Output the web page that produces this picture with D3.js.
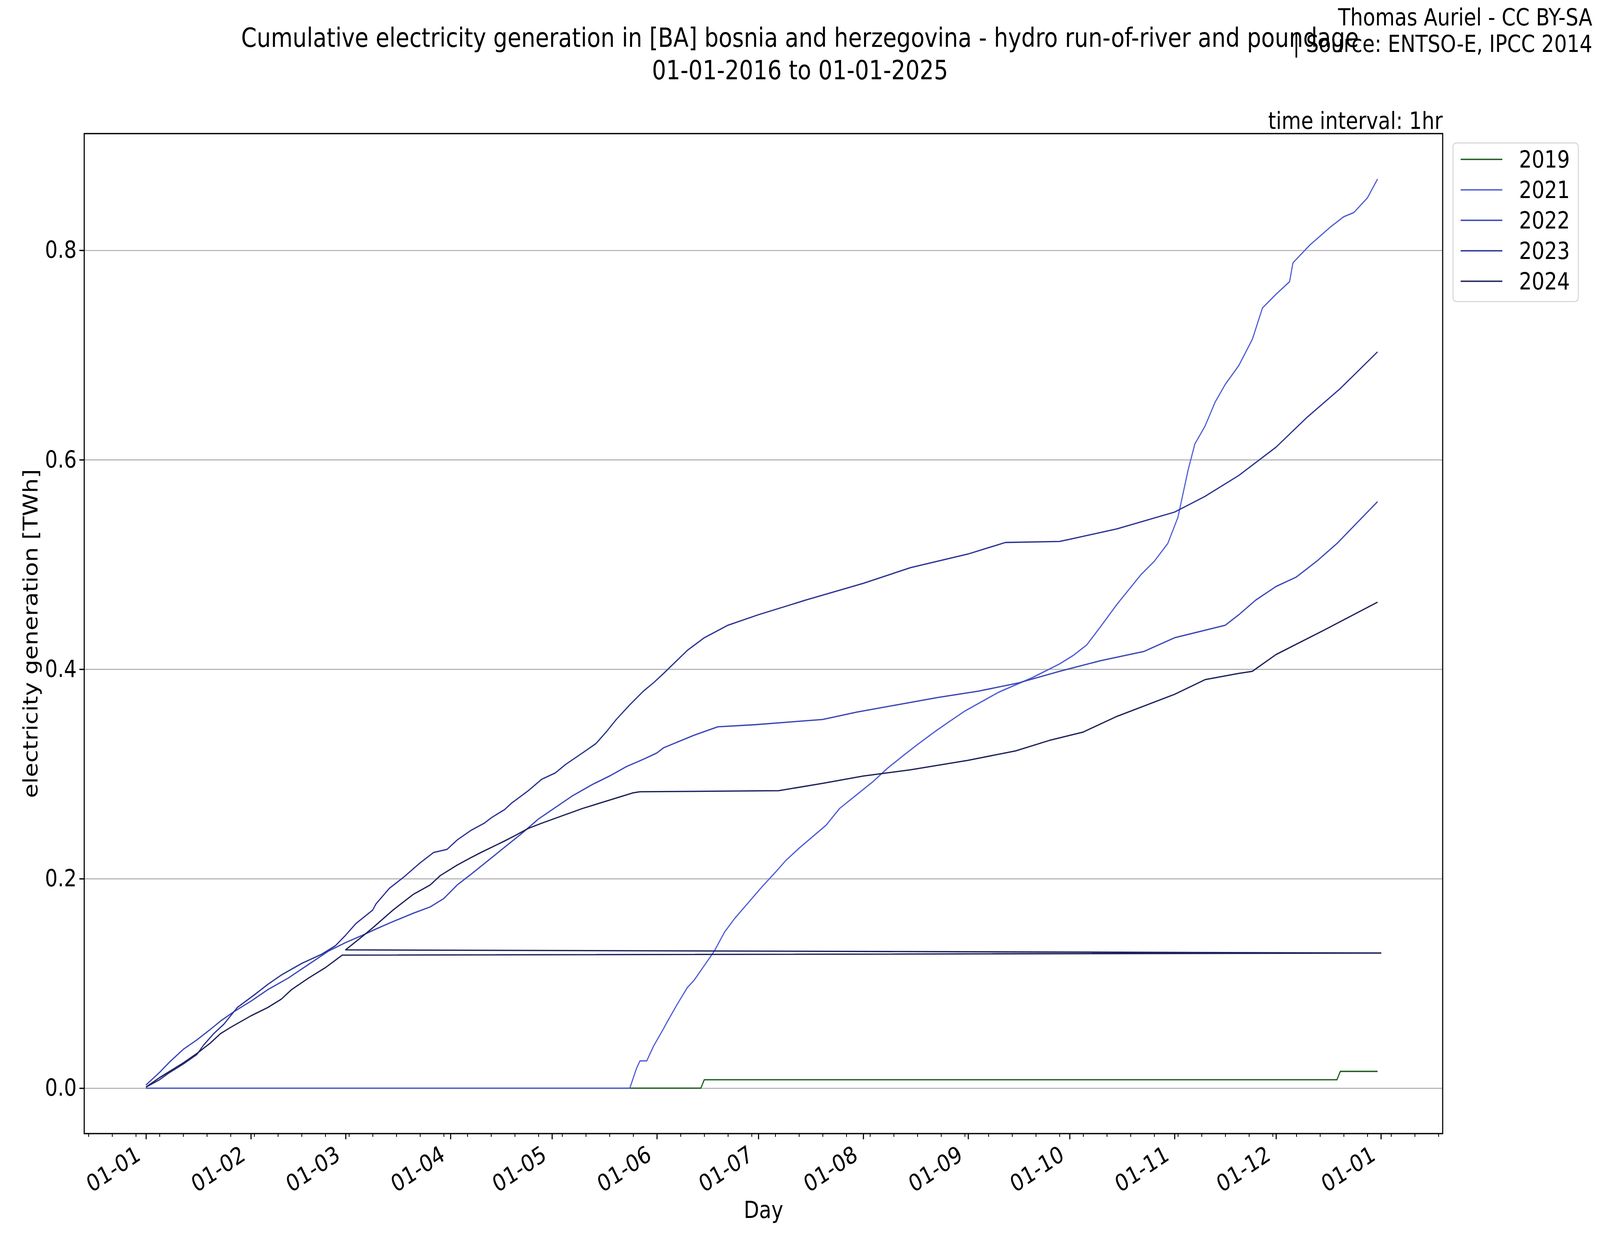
<!DOCTYPE html>
<html>
<head>
<meta charset="utf-8">
<script src="https://cdn.jsdelivr.net/npm/d3@7"></script>
<style>
  html, body { margin: 0; padding: 0; background: #fff; overflow: hidden; }
  svg { display: block; width: 100vw; height: 100vh; }
  text { font-family: "DejaVu Sans", sans-serif; fill: #000; }
</style>
</head>
<body>
<div id="chart"></div>
<script>
// series order as in the legend
const years = ['2019', '2021', '2022', '2023', '2024']
const colors = ['#1b5e1f', '#4d5bd6', '#3a45b7', '#2b3290', '#1d2058']

// every year is drawn on a common 2015 calendar (day-month axis)
const dates2019 = ['2015-01-01', '2015-06-14', '2015-06-15', '2015-12-19', '2015-12-20', '2015-12-31']
const values2019 = [0, 0, 0.008, 0.008, 0.016, 0.016]

const dates2021 = ['2015-01-01', '2015-05-24', '2015-05-26', '2015-05-27', '2015-05-29', '2015-05-31', '2015-06-03', '2015-06-04', '2015-06-07', '2015-06-10',
  '2015-06-12', '2015-06-15', '2015-06-18', '2015-06-21', '2015-06-24', '2015-06-28', '2015-07-02', '2015-07-06', '2015-07-09', '2015-07-13',
  '2015-07-17', '2015-07-21', '2015-07-25', '2015-07-30', '2015-08-04', '2015-08-08', '2015-08-13', '2015-08-17', '2015-08-22', '2015-08-26',
  '2015-08-31', '2015-09-10', '2015-09-20', '2015-09-28', '2015-10-02', '2015-10-06', '2015-10-10', '2015-10-15', '2015-10-19', '2015-10-22',
  '2015-10-26', '2015-10-30', '2015-11-02', '2015-11-05', '2015-11-07', '2015-11-10', '2015-11-13', '2015-11-16', '2015-11-20', '2015-11-24',
  '2015-11-27', '2015-12-01', '2015-12-05', '2015-12-06', '2015-12-11', '2015-12-17', '2015-12-21', '2015-12-24', '2015-12-28', '2015-12-31']
const values2021 = [0, 0, 0.019, 0.026, 0.026, 0.040, 0.057, 0.063, 0.080, 0.096,
  0.103, 0.117, 0.131, 0.149, 0.162, 0.177, 0.192, 0.206, 0.217, 0.229,
  0.240, 0.251, 0.267, 0.280, 0.293, 0.305, 0.318, 0.328, 0.340, 0.349,
  0.360, 0.378, 0.392, 0.405, 0.413, 0.423, 0.440, 0.462, 0.478, 0.490,
  0.503, 0.520, 0.545, 0.590, 0.615, 0.632, 0.655, 0.672, 0.690, 0.715,
  0.745, 0.758, 0.770, 0.788, 0.805, 0.822, 0.832, 0.836, 0.850, 0.868]

const dates2022 = ['2015-01-01', '2015-01-05', '2015-01-08', '2015-01-12', '2015-01-16', '2015-01-20', '2015-01-23', '2015-01-27', '2015-02-01', '2015-02-06',
  '2015-02-12', '2015-02-18', '2015-02-24', '2015-03-01', '2015-03-06', '2015-03-10', '2015-03-15', '2015-03-21', '2015-03-26', '2015-03-30',
  '2015-04-03', '2015-04-07', '2015-04-12', '2015-04-17', '2015-04-22', '2015-04-27', '2015-05-02', '2015-05-07', '2015-05-13', '2015-05-18',
  '2015-05-23', '2015-05-28', '2015-06-01', '2015-06-03', '2015-06-12', '2015-06-19', '2015-06-30', '2015-07-12', '2015-07-20', '2015-07-30',
  '2015-08-11', '2015-08-23', '2015-09-04', '2015-09-16', '2015-09-28', '2015-10-10', '2015-10-23', '2015-11-01', '2015-11-16', '2015-11-20',
  '2015-11-25', '2015-12-01', '2015-12-07', '2015-12-13', '2015-12-19', '2015-12-25', '2015-12-31']
const values2022 = [0.003, 0.015, 0.025, 0.037, 0.046, 0.056, 0.064, 0.073, 0.083, 0.094,
  0.105, 0.118, 0.131, 0.139, 0.146, 0.152, 0.159, 0.167, 0.173, 0.181,
  0.194, 0.204, 0.217, 0.230, 0.243, 0.257, 0.268, 0.279, 0.290, 0.298,
  0.307, 0.314, 0.320, 0.325, 0.337, 0.345, 0.347, 0.350, 0.352, 0.359,
  0.366, 0.373, 0.379, 0.387, 0.398, 0.408, 0.417, 0.430, 0.442, 0.452,
  0.466, 0.479, 0.488, 0.503, 0.520, 0.540, 0.560]

const dates2023 = ['2015-01-01', '2015-01-05', '2015-01-08', '2015-01-12', '2015-01-16', '2015-01-18', '2015-01-21', '2015-01-24', '2015-01-28', '2015-02-02',
  '2015-02-06', '2015-02-10', '2015-02-16', '2015-02-22', '2015-02-26', '2015-03-01', '2015-03-04', '2015-03-09', '2015-03-10', '2015-03-14',
  '2015-03-18', '2015-03-23', '2015-03-27', '2015-03-31', '2015-04-03', '2015-04-07', '2015-04-11', '2015-04-13', '2015-04-17', '2015-04-19',
  '2015-04-24', '2015-04-28', '2015-05-02', '2015-05-05', '2015-05-10', '2015-05-14', '2015-05-17', '2015-05-20', '2015-05-24', '2015-05-28',
  '2015-05-31', '2015-06-03', '2015-06-10', '2015-06-15', '2015-06-22', '2015-07-01', '2015-07-15', '2015-08-01', '2015-08-15', '2015-09-01',
  '2015-09-12', '2015-09-28', '2015-10-01', '2015-10-15', '2015-11-01', '2015-11-10', '2015-11-20', '2015-12-01', '2015-12-10', '2015-12-20',
  '2015-12-31']
const values2023 = [0.001, 0.008, 0.015, 0.023, 0.032, 0.041, 0.052, 0.061, 0.077, 0.089,
  0.099, 0.108, 0.119, 0.128, 0.136, 0.146, 0.157, 0.170, 0.176, 0.191,
  0.201, 0.215, 0.225, 0.228, 0.237, 0.246, 0.253, 0.258, 0.266, 0.272,
  0.284, 0.295, 0.301, 0.309, 0.320, 0.329, 0.340, 0.352, 0.366, 0.379,
  0.387, 0.396, 0.418, 0.430, 0.442, 0.452, 0.466, 0.482, 0.497, 0.510,
  0.521, 0.522, 0.524, 0.534, 0.550, 0.565, 0.585, 0.612, 0.640, 0.668,
  0.703]

// leap day of 2024 lands on the next 1 January, hence the thin loop
const dates2024 = ['2015-01-01', '2015-01-05', '2015-01-08', '2015-01-12', '2015-01-16', '2015-01-20', '2015-01-23', '2015-01-26', '2015-02-01', '2015-02-06',
  '2015-02-10', '2015-02-13', '2015-02-18', '2015-02-23', '2015-02-28', '2016-01-01', '2015-03-01', '2015-03-06', '2015-03-09', '2015-03-15',
  '2015-03-21', '2015-03-26', '2015-03-29', '2015-04-03', '2015-04-07', '2015-04-10', '2015-04-17', '2015-04-20', '2015-04-24', '2015-04-28',
  '2015-05-04', '2015-05-10', '2015-05-16', '2015-05-22', '2015-05-25', '2015-05-27', '2015-07-07', '2015-07-20', '2015-08-01', '2015-08-15',
  '2015-09-01', '2015-09-15', '2015-09-25', '2015-10-05', '2015-10-15', '2015-11-01', '2015-11-10', '2015-11-20', '2015-11-24', '2015-12-01',
  '2015-12-15', '2015-12-31']
const values2024 = [0.001, 0.010, 0.016, 0.024, 0.033, 0.043, 0.052, 0.058, 0.069, 0.077,
  0.085, 0.094, 0.105, 0.115, 0.127, 0.129, 0.132, 0.145, 0.153, 0.170,
  0.185, 0.194, 0.203, 0.213, 0.220, 0.225, 0.236, 0.241, 0.248, 0.253,
  0.260, 0.267, 0.273, 0.279, 0.282, 0.283, 0.284, 0.291, 0.298, 0.304,
  0.313, 0.322, 0.332, 0.340, 0.355, 0.376, 0.390, 0.396, 0.398, 0.414,
  0.437, 0.464]

const yTickValues = [0, 0.2, 0.4, 0.6, 0.8]
const titleLines = [
  'Cumulative electricity generation in [BA] bosnia and herzegovina - hydro run-of-river and poundage',
  '01-01-2016 to 01-01-2025'
]
const creditLines = ['Thomas Auriel - CC BY-SA', '| Source: ENTSO-E, IPCC 2014']

// drawing space is the 4800x3200 figure; the svg stretches it over the window
const width = 4800
const height = 3200
const plot = { left: 252.7, right: 4328, top: 342, bottom: 2902 }
const fontSize = 60

const parse = d3.timeParse('%Y-%m-%d')
const rawDates = [dates2019, dates2021, dates2022, dates2023, dates2024]
const rawValues = [values2019, values2021, values2022, values2023, values2024]
const series = years.map((year, i) => ({
  year,
  color: colors[i],
  points: rawDates[i].map((d, j) => ({ date: parse(d), value: rawValues[i][j] }))
}))

const allPoints = series.flatMap(s => s.points)
const [d0, d1] = d3.extent(allPoints, d => d.date)
const xPad = (d1 - d0) * 0.05
const x = d3.scaleTime()
  .domain([new Date(+d0 - xPad), new Date(+d1 + xPad)])
  .range([plot.left, plot.right])

const [v0, v1] = d3.extent(allPoints, d => d.value)
const yPad = (v1 - v0) * 0.05
const y = d3.scaleLinear()
  .domain([v0 - yPad, v1 + yPad])
  .range([plot.bottom, plot.top])

const svg = d3.select('#chart').append('svg')
  .attr('viewBox', `0 0 ${width} ${height}`)
  .attr('preserveAspectRatio', 'none')

svg.append('rect').attr('width', width).attr('height', height).attr('fill', '#fff')

// horizontal grid
svg.append('g')
  .attr('transform', `translate(${plot.left},0)`)
  .call(d3.axisLeft(y).tickValues(yTickValues).tickSize(-(plot.right - plot.left)).tickFormat(''))
  .call(g => g.select('.domain').remove())
  .call(g => g.selectAll('line').attr('stroke', '#b0b0b0').attr('stroke-width', 2.6))

// data lines
const line = d3.line()
  .x(d => x(d.date))
  .y(d => y(d.value))

svg.append('g')
  .selectAll('path')
  .data(series)
  .enter()
  .append('path')
  .attr('d', d => line(d.points))
  .attr('fill', 'none')
  .attr('stroke', d => d.color)
  .attr('stroke-width', 3.3)
  .attr('stroke-linejoin', 'round')

// x axis: months major, mondays minor
const majorTicks = d3.timeMonth.range(d0, new Date(+d1 + 1))
const majorSet = new Set(majorTicks.map(d => +d))
const minorTicks = d3.timeMonday.range(x.domain()[0], x.domain()[1]).filter(d => !majorSet.has(+d))

svg.append('g')
  .attr('transform', `translate(0,${plot.bottom})`)
  .call(d3.axisBottom(x).tickValues(minorTicks).tickSize(8.3).tickFormat(''))
  .call(g => g.select('.domain').remove())
  .call(g => g.selectAll('line').attr('stroke', '#000').attr('stroke-width', 2.5))

svg.append('g')
  .attr('transform', `translate(0,${plot.bottom})`)
  .call(d3.axisBottom(x).tickValues(majorTicks).tickSize(14.6).tickFormat(d3.timeFormat('%d-%m')))
  .call(g => g.select('.domain').remove())
  .call(g => g.selectAll('line').attr('stroke', '#000').attr('stroke-width', 3.3))
  .call(g => g.selectAll('text')
    .attr('y', null)
    .attr('dy', null)
    .attr('text-anchor', 'end')
    .attr('font-size', fontSize)
    .attr('font-family', '"DejaVu Sans", sans-serif')
    .attr('transform', 'translate(-13,65) rotate(-30)'))

// y axis
svg.append('g')
  .attr('transform', `translate(${plot.left},0)`)
  .call(d3.axisLeft(y).tickValues(yTickValues).tickSize(14.6).tickPadding(8).tickFormat(d3.format('.1f')))
  .call(g => g.select('.domain').remove())
  .call(g => g.selectAll('line').attr('stroke', '#000').attr('stroke-width', 3.3))
  .call(g => g.selectAll('text')
    .attr('font-size', fontSize)
    .attr('font-family', '"DejaVu Sans", sans-serif'))

// frame
svg.append('rect')
  .attr('x', plot.left)
  .attr('y', plot.top)
  .attr('width', plot.right - plot.left)
  .attr('height', plot.bottom - plot.top)
  .attr('fill', 'none')
  .attr('stroke', '#000')
  .attr('stroke-width', 3.3)

// titles and labels
svg.append('g')
  .selectAll('text')
  .data(titleLines)
  .enter()
  .append('text')
  .attr('x', width / 2)
  .attr('y', (d, i) => 120 + i * 83)
  .attr('text-anchor', 'middle')
  .attr('font-size', 67)
  .text(d => d)

svg.append('g')
  .selectAll('text')
  .data(creditLines)
  .enter()
  .append('text')
  .attr('x', 4777)
  .attr('y', (d, i) => 65 + i * 68)
  .attr('text-anchor', 'end')
  .attr('font-size', fontSize)
  .text(d => d)

svg.append('text')
  .attr('x', plot.right)
  .attr('y', 330)
  .attr('text-anchor', 'end')
  .attr('font-size', fontSize)
  .text('time interval: 1hr')

svg.append('text')
  .attr('x', (plot.left + plot.right) / 2)
  .attr('y', 3118)
  .attr('text-anchor', 'middle')
  .attr('font-size', fontSize)
  .text('Day')

svg.append('text')
  .attr('transform', `translate(112,${(plot.top + plot.bottom) / 2}) rotate(-90)`)
  .attr('text-anchor', 'middle')
  .attr('font-size', fontSize)
  .text('electricity generation [TWh]')

// legend
const legend = svg.append('g').attr('transform', 'translate(4359,366)')
legend.append('rect')
  .attr('width', 376)
  .attr('height', 406)
  .attr('rx', 10)
  .attr('fill', '#fff')
  .attr('fill-opacity', 0.8)
  .attr('stroke', '#d3d3d3')
  .attr('stroke-width', 2.7)

const item = legend.selectAll('.item')
  .data(series)
  .enter()
  .append('g')
  .attr('class', 'item')
  .attr('transform', (d, i) => `translate(0,${42 + i * 78})`)

item.append('line')
  .attr('x1', 23)
  .attr('x2', 148)
  .attr('stroke', d => d.color)
  .attr('stroke-width', 3.3)

item.append('text')
  .attr('x', 198)
  .attr('dy', '0.35em')
  .attr('font-size', fontSize)
  .text(d => d.year)
</script>
</body>
</html>
